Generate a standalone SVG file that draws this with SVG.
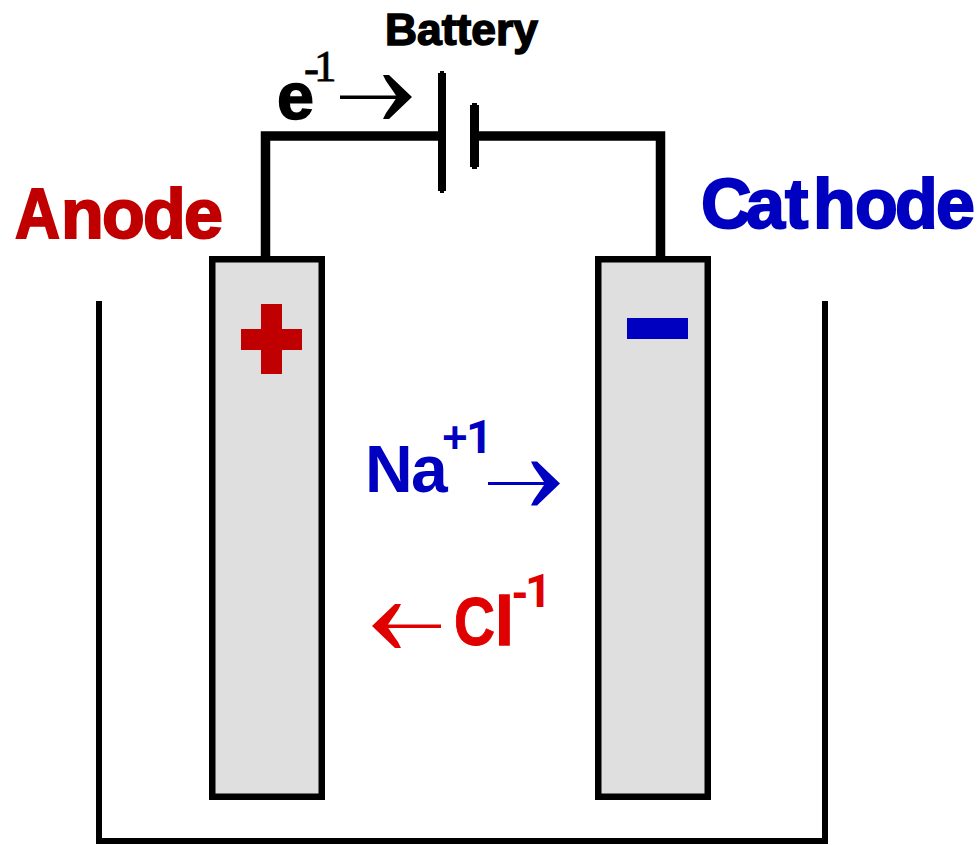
<svg xmlns="http://www.w3.org/2000/svg" width="980" height="845" viewBox="0 0 980 845">
<style>
.w{fill:none;stroke:#000;stroke-linejoin:miter}
.b{font-family:"Liberation Sans",Arial,sans-serif;font-weight:bold}
.one{font-family:Roboto,"Liberation Sans",sans-serif;font-weight:bold}
.red{fill:#C00000}.blue{fill:#0000C0}.cl{fill:#E00000}
.el{fill:#DFDFDF;stroke:#000;stroke-width:6.5}
</style>
<defs>
<path id="fullhead" d="M0 0L-23 -22H-29L-26 -16L-19 -6L-15 0L-19 6L-26 16L-29 22H-23Z"/>
</defs>
<rect width="980" height="845" fill="#fff"/>
<g id="vessel"><path class="w" stroke-width="6" d="M99 301V841H825V301"/></g>
<g id="connectors">
<path class="w" stroke-width="9.500" d="M265.500 256V136H442"/>
<path class="w" stroke-width="9.500" d="M475 136H660.500V262"/>
<rect x="659" y="262" width="3" height="4"/>
</g>
<g id="anode">
<rect class="el" x="212.250" y="259.250" width="109.500" height="537.500"/>
<path class="red" d="M261 304H282V329H302V350H282V374H261V350H241V329H261Z"/>
<text class="b red" x="15" y="238" font-size="70" stroke="#C00000" stroke-width="2" textLength="45" lengthAdjust="spacingAndGlyphs">A</text>
<text class="b red" x="61 102 143 184" y="238" font-size="70" stroke="#C00000" stroke-width="2">node</text>
</g>
<g id="cathode">
<rect class="el" x="598.250" y="259.250" width="109.500" height="537.500"/>
<rect class="blue" x="627" y="318" width="61" height="21"/>
<text class="b blue" x="701 746 785 813 855 895 936" y="228" font-size="70" stroke="#0000C0" stroke-width="2">Cathode</text>
</g>
<g id="battery">
<rect x="438" y="73" width="8" height="118"/><rect x="440" y="71" width="4" height="122"/>
<rect x="470" y="105" width="9" height="62"/><rect x="472" y="103" width="5" height="66"/>
<text class="b" x="385" y="45" font-size="44" stroke="#000" stroke-width="1.500" textLength="153" lengthAdjust="spacingAndGlyphs">Battery</text>
</g>
<g id="electron">
<text class="b" x="277" y="119" font-size="66" stroke="#000" stroke-width="1.500" textLength="37" lengthAdjust="spacingAndGlyphs">e</text>
<text x="304 314" y="83 81" font-family="'Liberation Serif',serif" font-size="45" stroke="#000" stroke-width=".8">-1</text>
<rect x="340" y="95.500" width="60" height="3.500"/>
<use href="#fullhead" x="412" y="97"/>
</g>
<g id="sodium">
<text class="b blue" x="365 411" y="492" font-size="66">Na</text>
<text class="b blue" x="442" y="453" font-size="44">+</text><text class="one blue" x="466" y="453" font-size="47">1</text>
<rect class="blue" x="488" y="482" width="60" height="3"/>
<use href="#fullhead" class="blue" x="560" y="483.500"/>
</g>
<g id="chloride">
<text class="b cl" x="454" y="645" font-size="68" stroke="#E00000" stroke-width="1" textLength="41" lengthAdjust="spacingAndGlyphs">C</text>
<text class="b cl" x="495" y="645" font-size="68" stroke="#E00000" stroke-width="1.500">l</text>
<text class="b cl" x="512" y="607" font-size="47">-</text><text class="one cl" x="525" y="607" font-size="47">1</text>
<rect class="cl" x="385" y="624.500" width="56" height="3.500"/>
<use href="#fullhead" class="cl" transform="translate(372 626) scale(-1 1)"/>
</g>
</svg>
